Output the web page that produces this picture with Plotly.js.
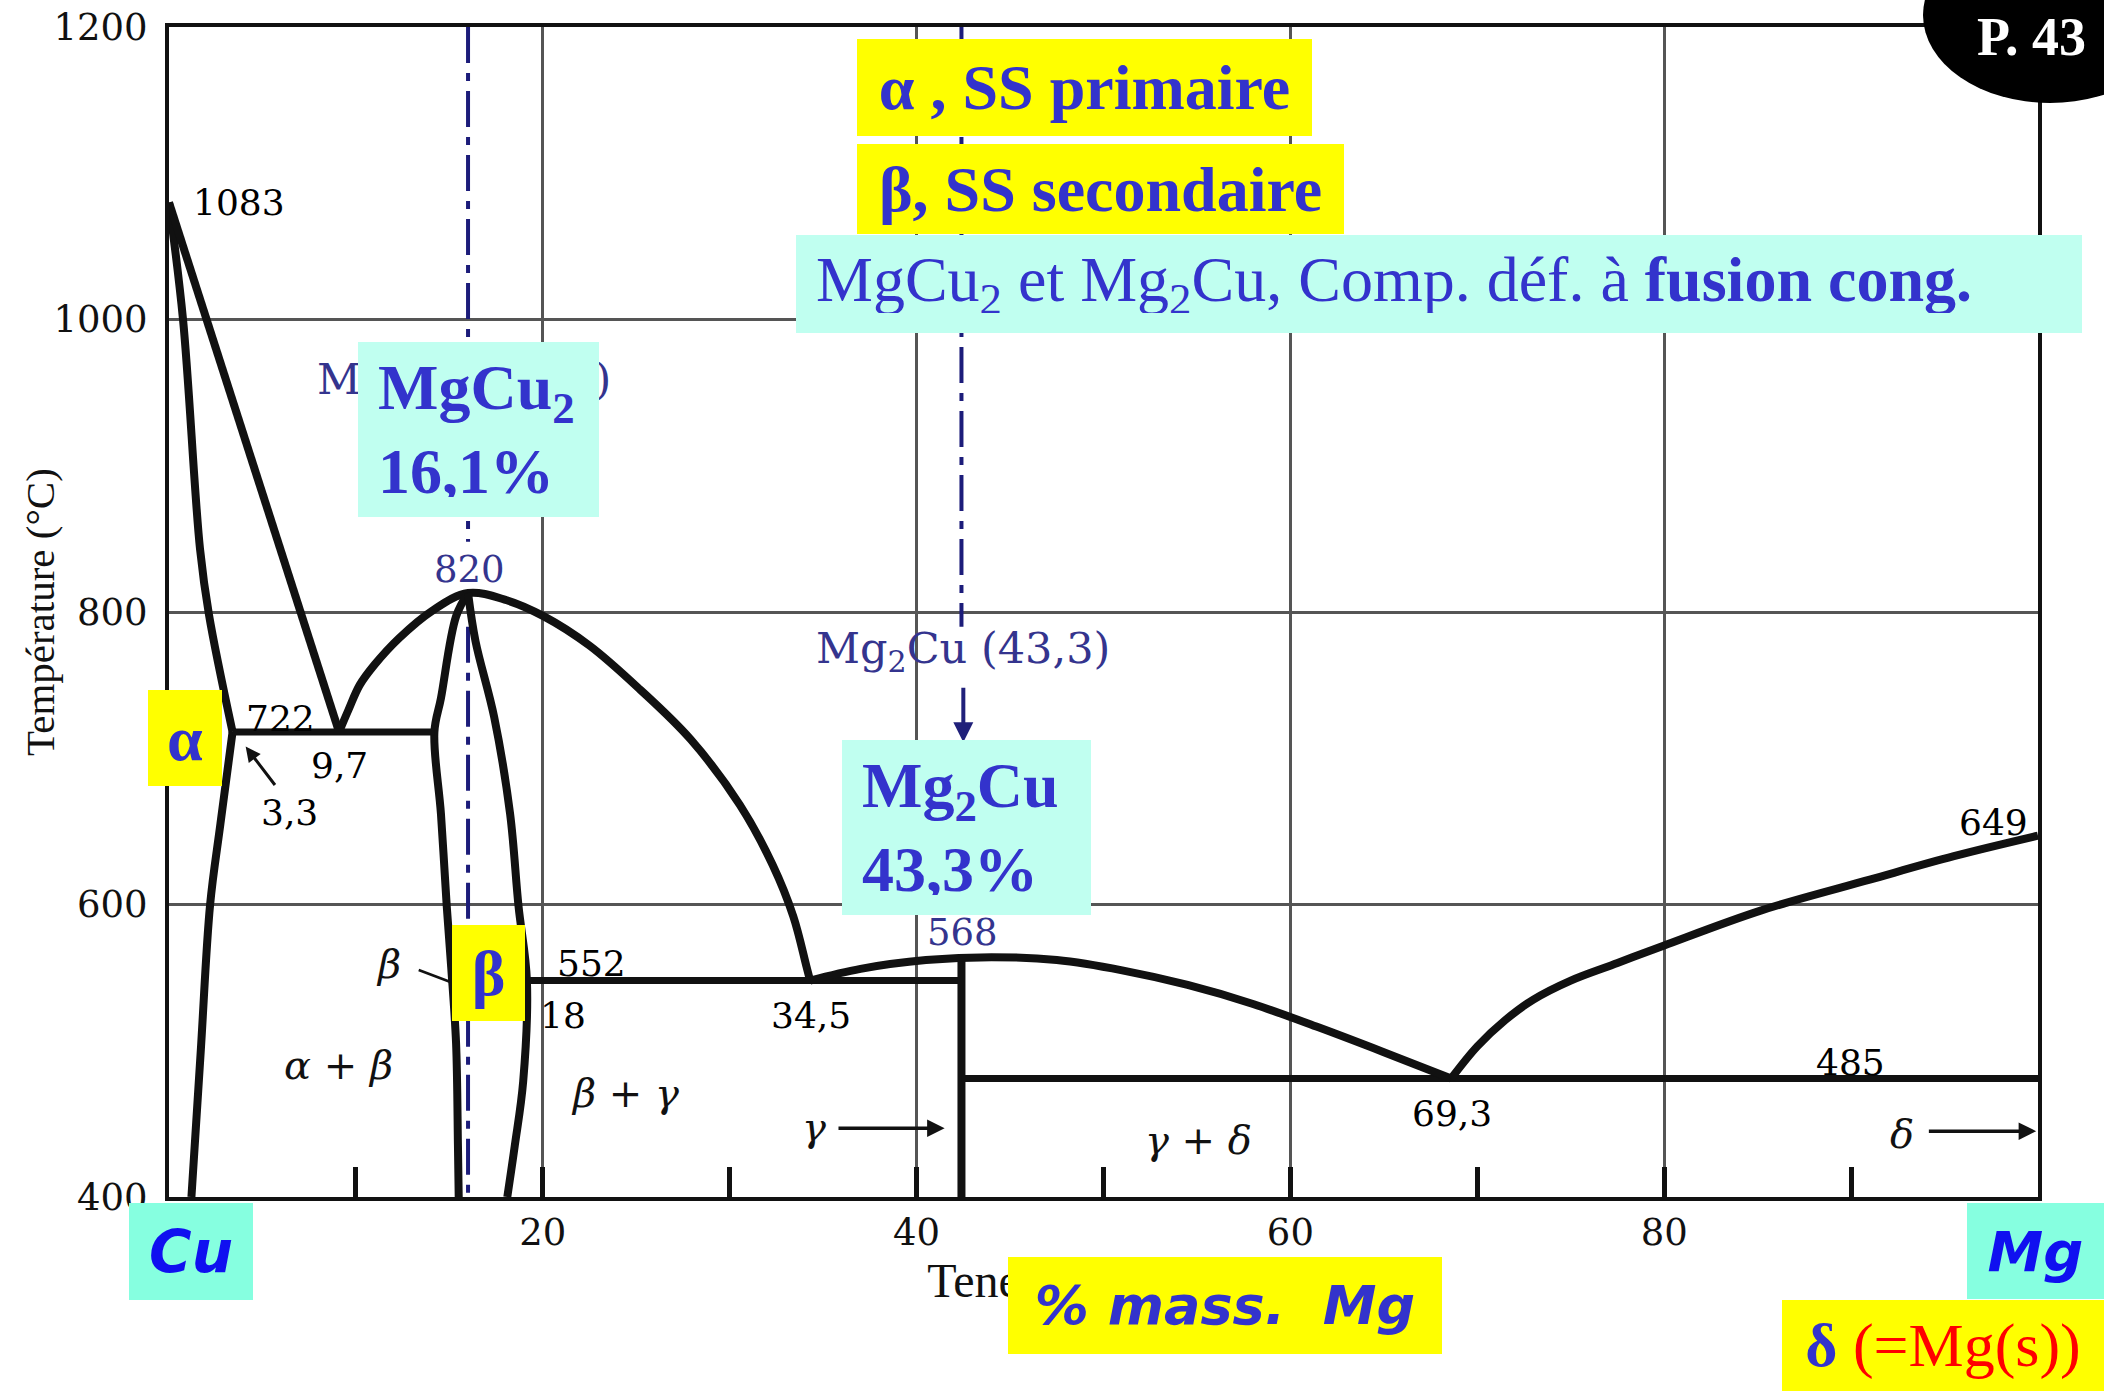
<!DOCTYPE html>
<html>
<head>
<meta charset="utf-8">
<script src="https://cdn.plot.ly/plotly-3.0.1.min.js"></script>
<style>
  html, body { margin: 0; padding: 0; background: #ffffff; }
  #chart { width: 2104px; height: 1391px; }
</style>
</head>
<body>
<div id="chart"></div>
<script>
// ---------------- DATA (x = % mass Mg, T = °C) ----------------
const cuSolidusX = [0, 0.75, 1.66, 2.14, 3.4];
const cuSolidusT = [1080, 1000, 843, 798, 718];

const alphaSolvusX = [3.4, 2.75, 2.2, 1.7, 1.2];
const alphaSolvusT = [718, 655, 600, 500, 400];

const cuLiquidusX = [0, 9.1];
const cuLiquidusT = [1080, 718];

const mgcu2DomeX = [9.1, 9.6, 10.2, 11.0, 12.3, 14.1, 16.0, 18.07, 20.06, 22.5, 25.2, 27.9, 30.55, 32.3, 33.4, 34.1, 34.3];
const mgcu2DomeT = [718, 733, 750, 764, 782, 801, 813, 808, 797, 777, 747, 713, 668, 627, 592, 558, 548];

const betaLeftX = [16.0, 15.36, 14.55, 14.2, 14.55, 14.86, 15.1, 15.36, 15.46, 15.5];
const betaLeftT = [813, 797, 741, 718, 662, 599, 557, 505, 435, 400];

const betaRightX = [16.0, 16.4, 17.4, 18.25, 18.7, 19.15, 18.95, 18.5, 18.1];
const betaRightT = [813, 780, 728, 662, 599, 548, 479, 435, 400];

const eut1X = [3.4, 14.2];
const eut1T = [718, 718];

const eut2X = [19.15, 42.4];
const eut2T = [548, 548];

const mg2cuVertX = [42.4, 42.4];
const mg2cuVertT = [400, 564];

const eut3X = [42.4, 100];
const eut3T = [481, 481];

const mg2cuDomeX = [34.3, 37.0, 40.5, 44.0, 47.5, 51.0, 54.5, 58.0, 61.5, 65.0, 68.6];
const mg2cuDomeT = [548, 556, 562, 564, 562, 555, 545, 532, 516, 499, 481];

const mgLiquidusX = [68.6, 70.0, 71.5, 73.0, 75.0, 77.5, 80.0, 85.2, 91.0, 95.5, 100];
const mgLiquidusT = [481, 503, 521, 535, 548, 560, 572, 596, 617, 633, 647];

// compound reference lines (dash-dot)
const mgcu2RefX = 16.0;
const mgcu2RefUpperT = [1200, 848];
const mgcu2RefLowerT = [790, 400];
const mg2cuRefX = 42.4;
const mg2cuRefT = [1200, 790];

// black diagram labels
const numLabels = ['1083', '722', '9,7', '3,3', '552', '18', '34,5', '69,3', '485', '649'];
const numLabelX = [3.75, 5.94, 9.12, 6.46, 22.63, 21.1, 34.33, 68.63, 89.96, 97.6];
const numLabelT = [1080, 727, 695, 663, 560, 524, 524, 457, 492, 656];

const phaseLabels = ['α + β', 'β + γ', 'γ + δ', 'β', 'γ', 'δ'];
const phaseLabelX = [9.06, 24.38, 55.07, 11.77, 34.5, 92.74];
const phaseLabelT = [490, 471, 439, 559, 448, 443];

// navy labels
const navyLabels = ['820', '568', 'Mg<sub>2</sub>Cu (43,3)', 'MgCu<sub>2</sub> (16,1)'];
const navyLabelX = [16.08, 42.43, 42.5, 15.8];
const navyLabelT = [829, 581, 773, 957];

// arrows: [tailX, tailT, headX, headT]
const gammaArrow = [35.66, 447, 41.5, 447];
const deltaArrow = [94.0, 445, 99.9, 445];
const arrow33 = [5.83, 679, 4.1, 708];
const betaLeader = [13.2, 556, 15.06, 547];
const mg2cuArrow = [42.5, 755, 42.5, 711];

// ---------------- FIGURE ----------------
const LINE = '#111111';
const PW = 8;
function seg(x, y, shape, w) {
  return { x: x, y: y, type: 'scatter', mode: 'lines', hoverinfo: 'skip', showlegend: false,
           line: { color: LINE, width: w || PW, shape: shape || 'linear', smoothing: 1.0 } };
}
function dashdot(x, y) {
  return { x: x, y: y, type: 'scatter', mode: 'lines', hoverinfo: 'skip', showlegend: false,
           line: { color: '#1c1c7a', width: 4, dash: '36px,10px,8px,10px' } };
}

const traces = [
  dashdot([mgcu2RefX, mgcu2RefX], mgcu2RefUpperT),
  dashdot([mgcu2RefX, mgcu2RefX], mgcu2RefLowerT),
  dashdot([mg2cuRefX, mg2cuRefX], mg2cuRefT),
  seg(cuSolidusX, cuSolidusT, 'spline'),
  seg(alphaSolvusX, alphaSolvusT, 'spline'),
  seg(cuLiquidusX, cuLiquidusT),
  seg(mgcu2DomeX, mgcu2DomeT, 'spline'),
  seg(betaLeftX, betaLeftT, 'spline'),
  seg(betaRightX, betaRightT, 'spline'),
  seg(eut1X, eut1T, 'linear', 7),
  seg(eut2X, eut2T, 'linear', 7),
  seg(mg2cuVertX, mg2cuVertT, 'linear', 8),
  seg(eut3X, eut3T, 'linear', 7),
  seg(mg2cuDomeX, mg2cuDomeT, 'spline'),
  seg(mgLiquidusX, mgLiquidusT, 'spline')
];

// plot frame in pixels (for paper-anchored decorations)
const PL = 169, PR = 2038, PT = 27, PB = 1197;
const px = v => (v - PL) / (PR - PL);
const py = v => (PB - v) / (PB - PT);

const annotations = [];

// y axis title (placed explicitly to match the original position)
annotations.push({
  xref: 'paper', yref: 'paper', x: px(40), y: py(612), xanchor: 'center', yanchor: 'middle',
  text: 'Température (°C)', textangle: -90, showarrow: false,
  font: { family: 'Liberation Serif', size: 41, color: '#111' }
});

numLabels.forEach((t, i) => annotations.push({
  x: numLabelX[i], y: numLabelT[i], xref: 'x', yref: 'y', text: t, showarrow: false,
  font: { family: 'DejaVu Serif', size: 36, color: '#000' }
}));
phaseLabels.forEach((t, i) => annotations.push({
  x: phaseLabelX[i], y: phaseLabelT[i], xref: 'x', yref: 'y', text: '<i>' + t + '</i>', showarrow: false,
  font: { family: 'DejaVu Serif', size: 40, color: '#111' }
}));
navyLabels.forEach((t, i) => annotations.push({
  x: navyLabelX[i], y: navyLabelT[i], xref: 'x', yref: 'y', text: t, showarrow: false,
  font: { family: 'DejaVu Serif', size: i < 2 ? 37 : 43, color: '#34348e' }
}));

function arrow(a, color, head, width) {
  annotations.push({
    x: a[2], y: a[3], ax: a[0], ay: a[1], xref: 'x', yref: 'y', axref: 'x', ayref: 'y',
    text: ' ', showarrow: true, arrowhead: head, arrowsize: 1, arrowwidth: width,
    arrowcolor: color, standoff: 0, startstandoff: 0
  });
}
arrow(gammaArrow, '#111', 2, 3.5);
arrow(deltaArrow, '#111', 2, 3.5);
arrow(arrow33, '#111', 2, 3);
arrow(betaLeader, '#111', 0, 2.5);
arrow(mg2cuArrow, '#20207a', 2, 4);

const BLUE = '#3333cc';
function box(r, text, bg, opts) {
  const o = opts || {};
  const pad = o.pad || 0;
  annotations.push({
    xref: 'paper', yref: 'paper', x: px(r[0]), y: py(r[1]), xanchor: 'left', yanchor: 'top',
    width: r[2] - r[0] - 2 * pad, height: r[3] - r[1] - 2 * pad, borderpad: pad, borderwidth: 0,
    bgcolor: bg, text: text, showarrow: false, align: o.align || 'center', valign: 'middle',
    font: { family: o.family || 'Liberation Serif', size: o.size || 64, color: o.color || BLUE }
  });
}
const YEL = '#ffff00', CYA = '#c0fff0', AQU = '#86ffe0';
box([857, 39, 1312, 136], '<b>α , SS primaire</b>', YEL);
box([857, 144, 1344, 234], '<b>β, SS secondaire</b>', YEL);
box([796, 235, 2082, 333], 'MgCu<sub>2</sub> et Mg<sub>2</sub>Cu, Comp. déf. à <b>fusion cong.</b>', CYA,
    { align: 'left', pad: 20, size: 64 });
box([358, 342, 599, 517], '<b>MgCu<sub>2</sub><br>16,1%</b>', CYA, { align: 'left', pad: 20 });
box([148, 690, 222, 786], '<b>α</b>', YEL);
box([452, 925, 525, 1021], '<b>β</b>', YEL);
box([842, 740, 1091, 915], '<b>Mg<sub>2</sub>Cu<br>43,3%</b>', CYA, { align: 'left', pad: 20 });
box([129, 1203, 253, 1300], '<b><i>Cu</i></b>', AQU, { family: 'DejaVu Sans', size: 58, color: '#1010f0' });
box([1967, 1203, 2104, 1299], '<b><i>Mg</i></b>', AQU, { family: 'DejaVu Sans', size: 56, color: '#1010f0' });
box([1008, 1257, 1442, 1354], '<b><i>% mass.  Mg</i></b>', YEL, { family: 'DejaVu Sans', size: 54 });
box([1782, 1300, 2104, 1391], '<b>δ</b> <span style="color:#ff0000">(=Mg(s))</span>', YEL, { size: 62 });

annotations.push({
  xref: 'paper', yref: 'paper', x: px(2031), y: py(37), xanchor: 'center', yanchor: 'middle',
  text: '<b>P. 43</b>', showarrow: false,
  font: { family: 'Liberation Serif', size: 54, color: '#ffffff' }
});

const layout = {
  width: 2104, height: 1391, autosize: false,
  margin: { l: PL, r: 2104 - PR, t: PT, b: 1391 - PB, pad: 0 },
  paper_bgcolor: '#ffffff', plot_bgcolor: '#ffffff',
  showlegend: false,
  xaxis: {
    range: [0, 100], tick0: 0, dtick: 20, ticks: 'inside', ticklen: 30, tickwidth: 5, tickcolor: '#111',
    showgrid: true, gridcolor: '#555', gridwidth: 2.5, zeroline: false,
    showline: true, mirror: true, linecolor: '#111', linewidth: 4,
    tickfont: { family: 'DejaVu Serif', size: 37, color: '#111' },
    minor: { tick0: 0, dtick: 10, ticks: 'inside', ticklen: 30, tickwidth: 5, tickcolor: '#111', showgrid: false },
    title: { text: 'Teneur en Mg (%)', font: { family: 'Liberation Serif', size: 48, color: '#111' }, standoff: 4 }
  },
  yaxis: {
    range: [400, 1200], tick0: 400, dtick: 200, ticks: '',
    showgrid: true, gridcolor: '#555', gridwidth: 2.5, zeroline: false,
    showline: true, mirror: true, linecolor: '#111', linewidth: 4,
    tickfont: { family: 'DejaVu Serif', size: 37, color: '#111' },
    ticklabelstandoff: 10
  },
  shapes: [
    { type: 'circle', xref: 'paper', yref: 'paper', x0: px(1923), x1: px(2177), y0: py(103), y1: py(-73),
      fillcolor: '#000000', line: { width: 0 }, layer: 'above' }
  ],
  annotations: annotations
};

Plotly.newPlot('chart', traces, layout, { displayModeBar: false, responsive: false });
</script>
</body>
</html>
